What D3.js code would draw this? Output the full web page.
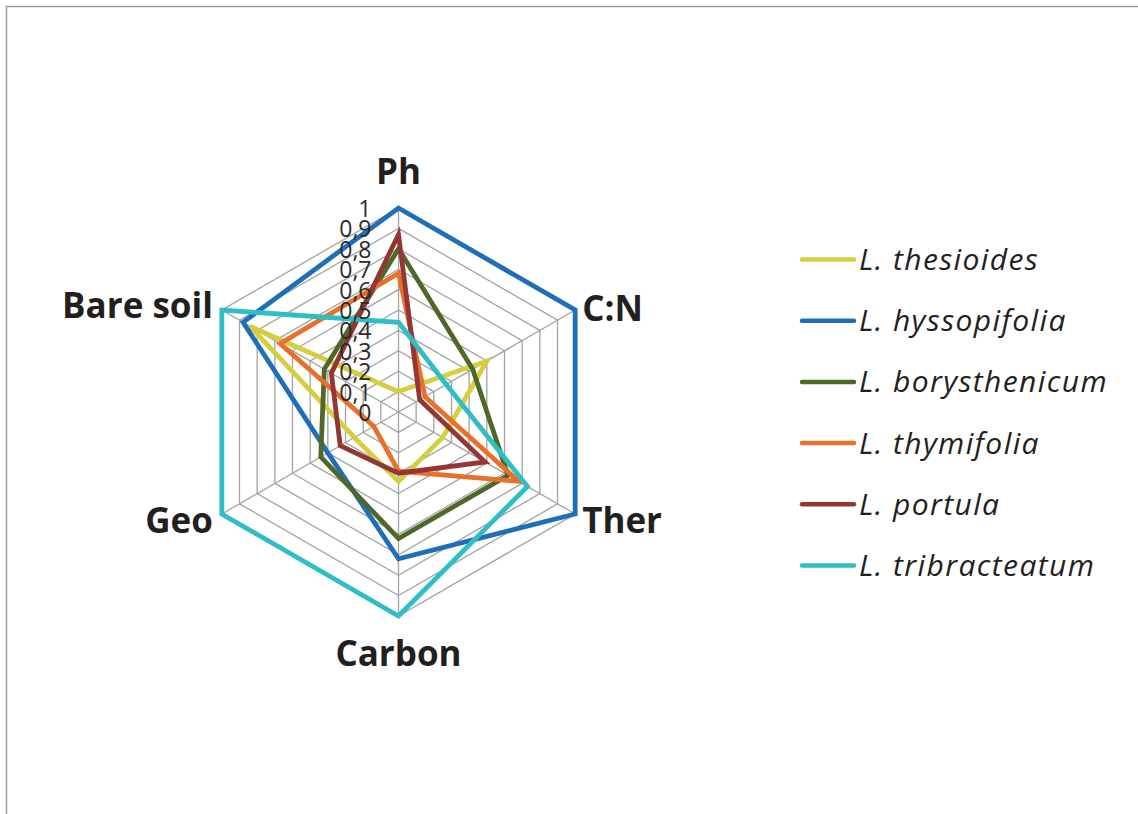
<!DOCTYPE html>
<html>
<head>
<meta charset="utf-8">
<script src="https://cdn.jsdelivr.net/npm/d3@7"></script>
<style>
  html, body { margin: 0; padding: 0; background: #fff; }
  svg { display: block; }
</style>
</head>
<body>
<svg id="chart" width="1138" height="814"></svg>
<script>
const axes = ["Ph", "C:N", "Ther", "Carbon", "Geo", "Bare soil"];
const seriesNames = ["L. thesioides", "L. hyssopifolia", "L. borysthenicum", "L. thymifolia", "L. portula", "L. tribracteatum"];
const thesioides     = [0.10, 0.50, 0.25, 0.34, 0.25, 0.84];
const hyssopifolia   = [1.00, 1.00, 1.00, 0.72, 0.40, 0.88];
const borysthenicum  = [0.80, 0.42, 0.62, 0.62, 0.44, 0.42];
const thymifolia     = [0.68, 0.15, 0.68, 0.29, 0.14, 0.67];
const portula        = [0.87, 0.12, 0.49, 0.30, 0.33, 0.38];
const tribracteatum  = [0.44, 0.27, 0.73, 1.00, 1.00, 1.00];
const tickValues = [0, 0.1, 0.2, 0.3, 0.4, 0.5, 0.6, 0.7, 0.8, 0.9, 1];
const tickLabels = ["0", "0,1", "0,2", "0,3", "0,4", "0,5", "0,6", "0,7", "0,8", "0,9", "1"];
const colors = ["#d5ce3f", "#1f6fb8", "#4f6828", "#e8702a", "#943634", "#2fbec6"];

const series = [thesioides, hyssopifolia, borysthenicum, thymifolia, portula, tribracteatum];

const svg = d3.select("#chart");
// frame (cropped chart area border)
svg.append("rect").attr("x", 6.5).attr("y", 6.5).attr("width", 1200).attr("height", 900)
  .attr("fill", "none").attr("stroke", "#9a9a9a").attr("stroke-width", 1.5);

const cx = 398.5, cy = 412, R = 204;
const r = d3.scaleLinear().domain([0, 1]).range([0, R]);
const angle = d3.scaleLinear().domain([0, axes.length]).range([0, 2 * Math.PI]);
const pt = (i, v) => [cx + r(v) * Math.sin(angle(i)), cy - r(v) * Math.cos(angle(i))];

const g = svg.append("g");
// grid rings
tickValues.slice(1).forEach(t => {
  g.append("path")
    .attr("d", d3.line()(axes.map((a, i) => pt(i, t))) + "Z")
    .attr("fill", "none").attr("stroke", "#a3a3a3").attr("stroke-width", 1.3);
});
// spokes
axes.forEach((a, i) => {
  const p = pt(i, 1);
  g.append("line").attr("x1", cx).attr("y1", cy).attr("x2", p[0]).attr("y2", p[1])
    .attr("stroke", "#a3a3a3").attr("stroke-width", 1.3);
});

// series
const radial = d3.lineRadial().angle((d, i) => angle(i)).radius(d => r(d)).curve(d3.curveLinearClosed);
series.forEach((s, k) => {
  g.append("path")
    .attr("transform", `translate(${cx},${cy})`)
    .attr("d", radial(s))
    .attr("fill", "none").attr("stroke", colors[k]).attr("stroke-width", 4.8)
    .attr("stroke-linejoin", "miter");
});

// tick labels
tickValues.forEach((t, j) => {
  svg.append("text").attr("x", cx - 27).attr("y", cy - r(t))
    .attr("text-anchor", "end").attr("dominant-baseline", "central")
    .attr("font-family", "'Open Sans', sans-serif").attr("font-size", 23)
    .attr("fill", "#2b2b2b").text(tickLabels[j]);
});

// axis labels
const labelPos = [
  {dx: 0, dy: -24, anchor: "middle"},
  {dx: 7, dy: 11, anchor: "start"},
  {dx: 7, dy: 19, anchor: "start"},
  {dx: 0, dy: 50, anchor: "middle"},
  {dx: -9, dy: 19, anchor: "end"},
  {dx: -9, dy: 8, anchor: "end"}
];
axes.forEach((a, i) => {
  const p = pt(i, 1);
  svg.append("text").attr("x", p[0] + labelPos[i].dx).attr("y", p[1] + labelPos[i].dy)
    .attr("text-anchor", labelPos[i].anchor)
    .attr("font-family", "'Open Sans', sans-serif").attr("font-weight", "bold").attr("font-size", 35)
    .attr("fill", "#231f20").text(a);
});

// legend
const legend = svg.append("g");
seriesNames.forEach((n, k) => {
  const y = 259.5 + k * 61.2;
  legend.append("line").attr("x1", 802).attr("x2", 854).attr("y1", y).attr("y2", y)
    .attr("stroke", colors[k]).attr("stroke-width", 4.5).attr("stroke-linecap", "round");
  legend.append("text").attr("x", 859).attr("y", y + 10.5)
    .attr("font-family", "'Open Sans', sans-serif").attr("font-style", "italic").attr("font-size", 30)
    .attr("letter-spacing", 1.4)
    .attr("fill", "#231f20").text(n);
});
</script>
</body>
</html>
